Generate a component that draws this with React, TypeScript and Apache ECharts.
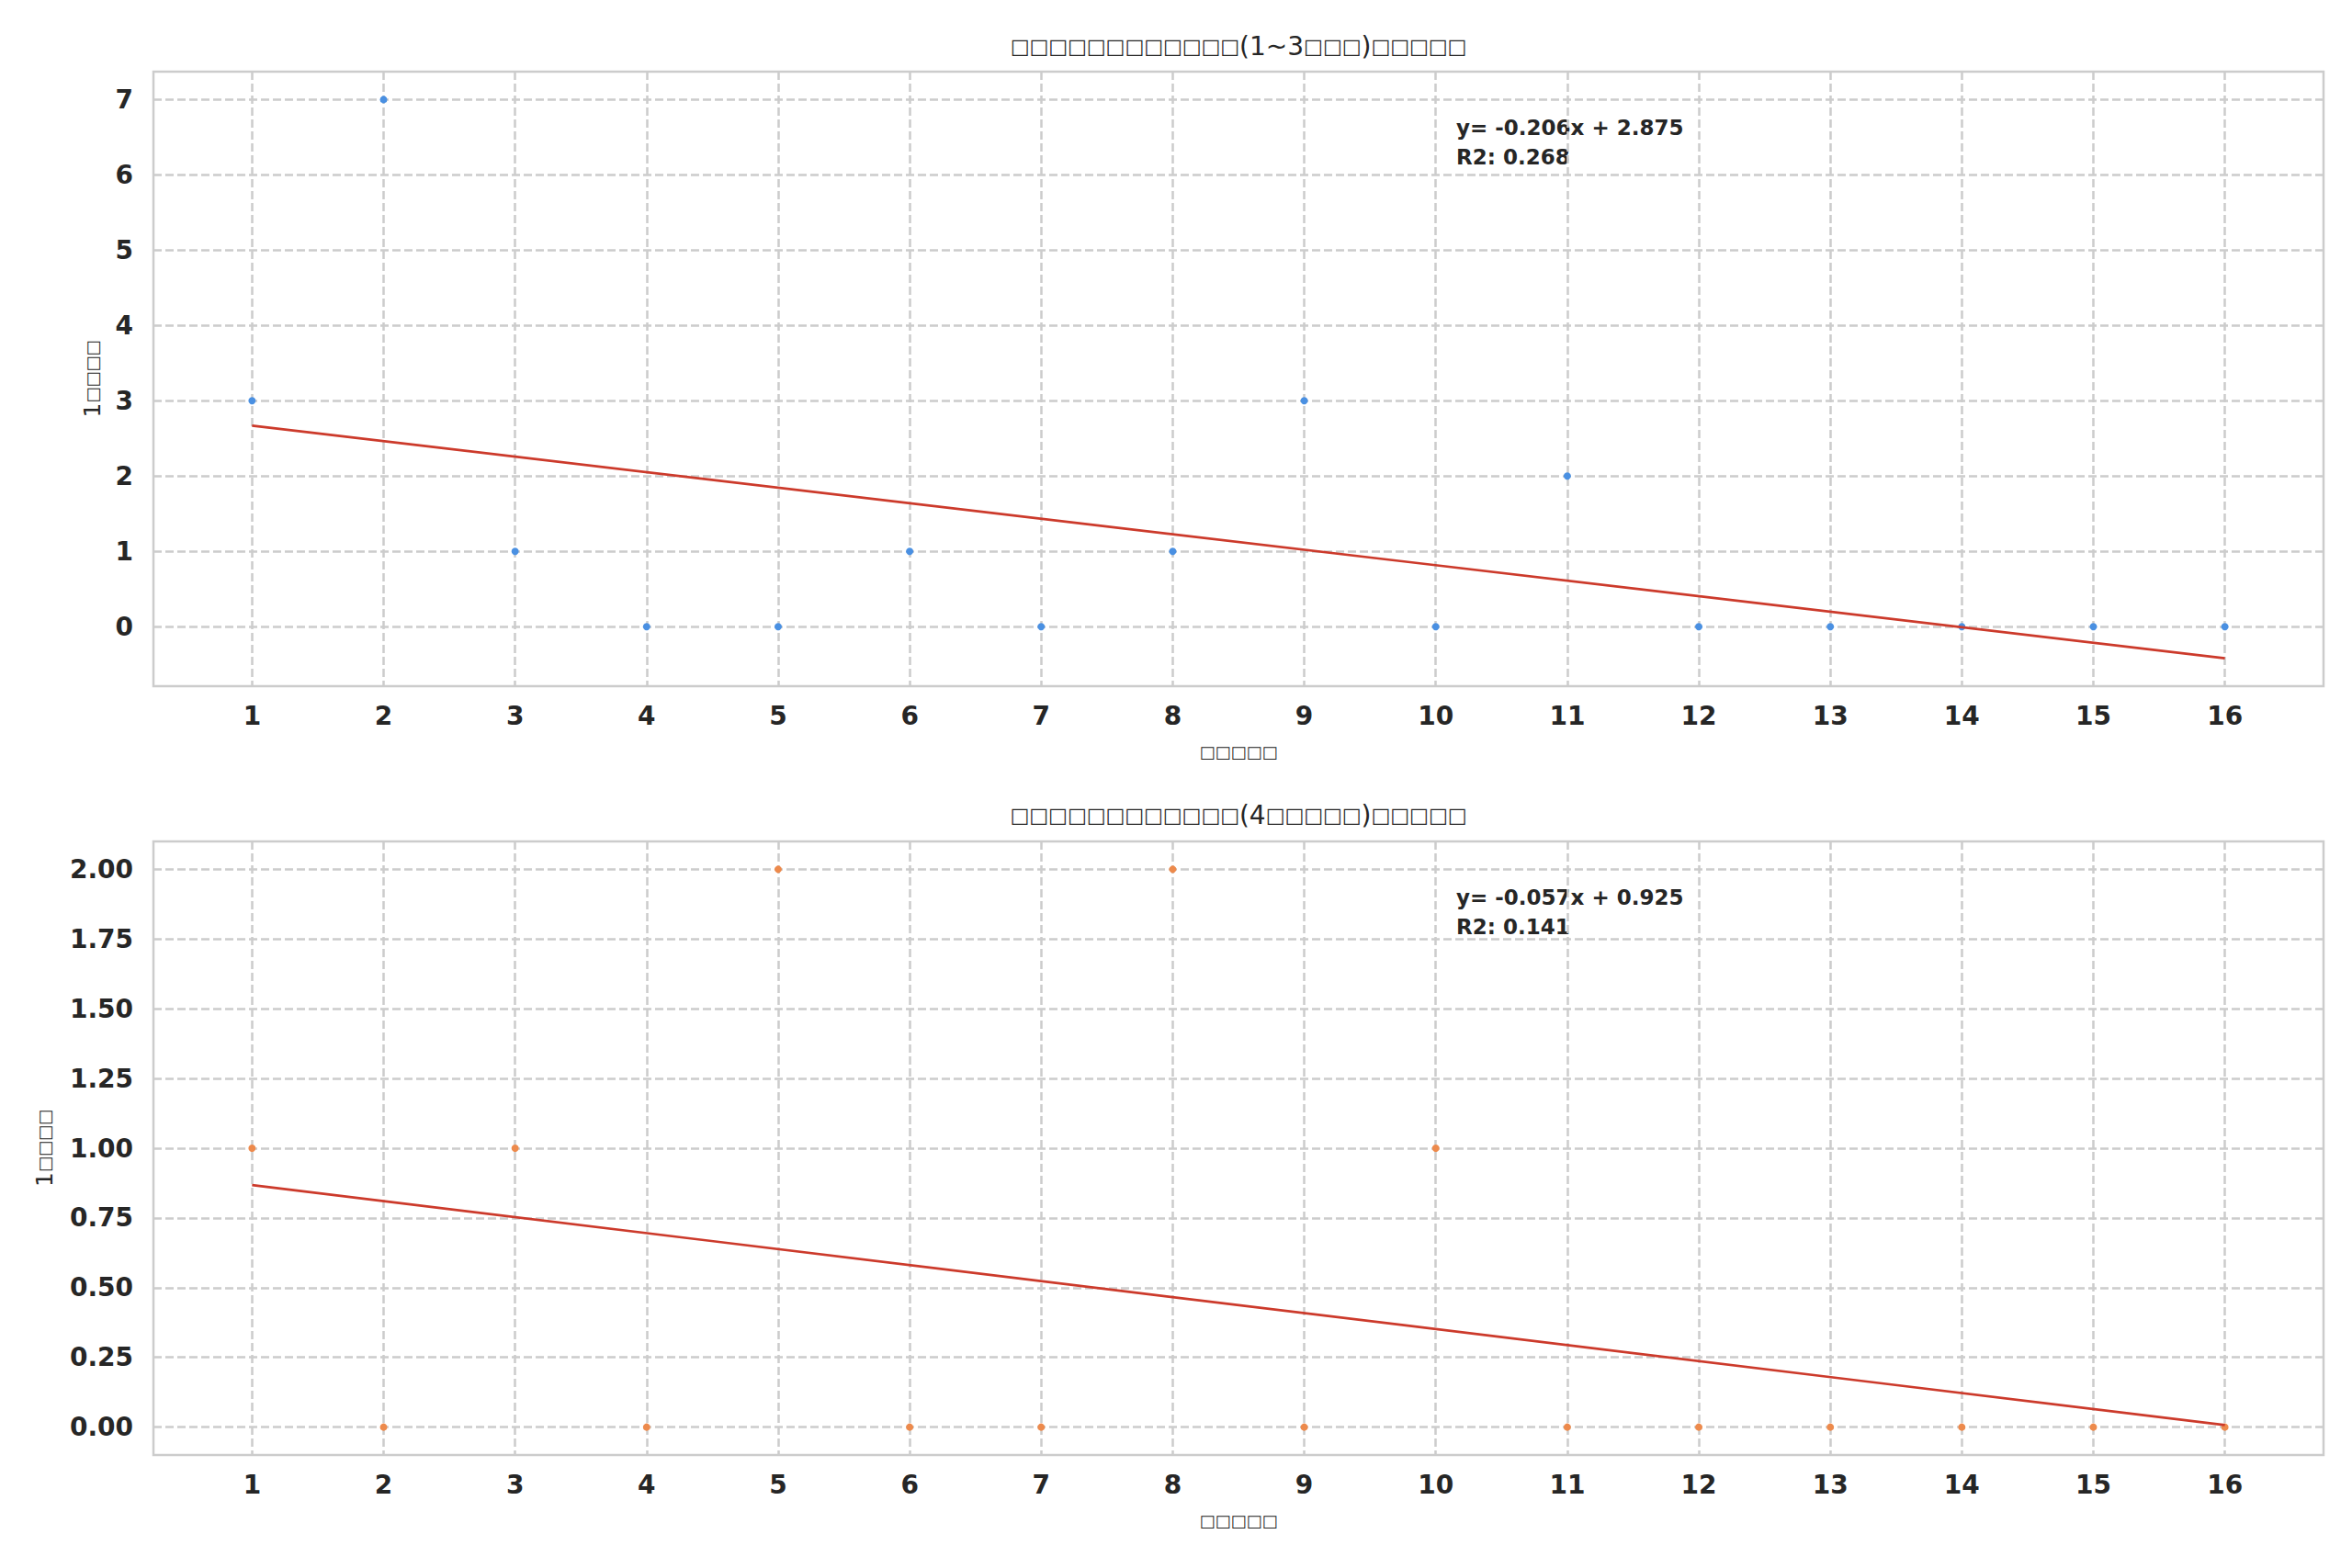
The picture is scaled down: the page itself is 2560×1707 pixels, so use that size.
import React, { useEffect, useRef } from "react";
import * as echarts from "echarts";

// ---- data ----
const months = [1, 2, 3, 4, 5, 6, 7, 8, 9, 10, 11, 12, 13, 14, 15, 16];
const countsShort = [3, 7, 1, 0, 0, 1, 0, 1, 3, 0, 2, 0, 0, 0, 0, 0];
const countsLong = [1, 0, 1, 0, 2, 0, 0, 2, 0, 1, 0, 0, 0, 0, 0, 0];
const xTicks = [1, 2, 3, 4, 5, 6, 7, 8, 9, 10, 11, 12, 13, 14, 15, 16];
const yTicksTop = [0, 1, 2, 3, 4, 5, 6, 7];
const yTicksBottom = [0, 0.25, 0.5, 0.75, 1, 1.25, 1.5, 1.75, 2];

// the reference shows missing-glyph boxes for its CJK text; boxes are wrapped in {b|...}
const titleTop = "{b|□□□□□□□□□□□□}(1~3{b|□□□}){b|□□□□□}";
const titleBottom = "{b|□□□□□□□□□□□□}(4{b|□□□□□}){b|□□□□□}";
const xName = "{b|□□□□□}";
const yName = "1{b|□□□□}";

const FONT = "DejaVu Sans";
const DARK = "#262626";
const GRID_COLOR = "#cccccc";
const BLUE = "#4a90e2";
const ORANGE = "#ed8a4c";
const RED = "#cc3a2b";

function fit(xs: number[], ys: number[]) {
  const n = xs.length;
  const mx = xs.reduce((a, b) => a + b, 0) / n;
  const my = ys.reduce((a, b) => a + b, 0) / n;
  let sxy = 0, sxx = 0, syy = 0;
  for (let i = 0; i < n; i++) {
    sxy += (xs[i] - mx) * (ys[i] - my);
    sxx += (xs[i] - mx) ** 2;
    syy += (ys[i] - my) ** 2;
  }
  const slope = sxy / sxx;
  const intercept = my - slope * mx;
  const r2 = (sxy * sxy) / (sxx * syy);
  return { slope, intercept, r2 };
}

function padRange(lo: number, hi: number) {
  const m = (hi - lo) * 0.05;
  return [lo - m, hi + m];
}

export default function App() {
  const ref = useRef<HTMLDivElement>(null);

  useEffect(() => {
    if (!ref.current) return;
    const chart = echarts.init(ref.current, undefined, { renderer: "svg" });

    const f1 = fit(months, countsShort);
    const f2 = fit(months, countsLong);
    const x0 = months[0];
    const x1 = months[months.length - 1];
    const line1 = [[x0, f1.intercept + f1.slope * x0], [x1, f1.intercept + f1.slope * x1]];
    const line2 = [[x0, f2.intercept + f2.slope * x0], [x1, f2.intercept + f2.slope * x1]];

    const y1lo = Math.min(...countsShort, line1[0][1], line1[1][1]);
    const y1hi = Math.max(...countsShort, line1[0][1], line1[1][1]);
    const y2lo = Math.min(...countsLong, line2[0][1], line2[1][1]);
    const y2hi = Math.max(...countsLong, line2[0][1], line2[1][1]);
    const [y1min, y1max] = padRange(y1lo, y1hi);
    const [y2min, y2max] = padRange(y2lo, y2hi);
    const [xmin, xmax] = padRange(x0, x1);

    const splitLine = {
      show: true,
      lineStyle: { color: GRID_COLOR, width: 2.5, type: [9, 4] },
    };

    const nameStyle = {
      fontSize: 25,
      color: DARK,
      fontFamily: FONT,
      rich: { b: { fontSize: 18, color: DARK, fontFamily: FONT } },
    };

    const xAxisCfg = (gridIndex: number) => ({
      type: "value",
      gridIndex,
      min: xmin,
      max: xmax,
      name: xName,
      nameLocation: "middle",
      nameGap: 62,
      nameTextStyle: nameStyle,
      axisLine: { show: false },
      axisTick: { show: false, customValues: xTicks },
      axisLabel: {
        customValues: xTicks,
        fontSize: 28,
        fontWeight: "bold",
        color: DARK,
        margin: 18,
        fontFamily: FONT,
      },
      splitLine,
    });

    const yAxisCfg = (
      gridIndex: number,
      min: number,
      max: number,
      ticks: number[],
      decimals: number,
      nameGap: number
    ) => ({
      type: "value",
      gridIndex,
      min,
      max,
      name: yName,
      nameLocation: "middle",
      nameRotate: 90,
      nameGap,
      nameTextStyle: nameStyle,
      axisLine: { show: false },
      axisTick: { show: false, customValues: ticks },
      axisLabel: {
        customValues: ticks,
        fontSize: 28,
        fontWeight: "bold",
        color: DARK,
        margin: 22,
        fontFamily: FONT,
        formatter: (v: number) => v.toFixed(decimals),
      },
      splitLine,
    });

    const annText = (f: { slope: number; intercept: number; r2: number }) => {
      const sign = f.intercept >= 0 ? "+" : "-";
      return [
        `y= ${f.slope.toFixed(3)}x ${sign} ${Math.abs(f.intercept).toFixed(3)}`,
        `R2: ${f.r2.toFixed(3)}`,
      ];
    };
    const a1 = annText(f1);
    const a2 = annText(f2);

    const textStyle = (text: string, size: number, weight: string, align: string) => ({
      text,
      fontSize: size,
      fontWeight: weight,
      fill: DARK,
      fontFamily: FONT,
      textAlign: align,
      textVerticalAlign: "middle",
      rich: { b: { fontSize: 22, fill: DARK, fontFamily: FONT } },
    });

    const option: any = {
      animation: false,
      backgroundColor: "#ffffff",
      textStyle: { fontFamily: FONT },
      grid: [
        {
          left: 167,
          right: 31,
          top: 78,
          height: 669,
          show: true,
          borderColor: GRID_COLOR,
          borderWidth: 2.5,
          backgroundColor: "transparent",
          containLabel: false,
          outerBoundsMode: "none",
        },
        {
          left: 167,
          right: 31,
          top: 916,
          height: 668,
          show: true,
          borderColor: GRID_COLOR,
          borderWidth: 2.5,
          backgroundColor: "transparent",
          containLabel: false,
          outerBoundsMode: "none",
        },
      ],
      xAxis: [xAxisCfg(0), xAxisCfg(1)],
      yAxis: [
        yAxisCfg(0, y1min, y1max, yTicksTop, 0, 54),
        yAxisCfg(1, y2min, y2max, yTicksBottom, 2, 106),
      ],
      graphic: [
        { type: "text", x: 1348, y: 50, style: textStyle(titleTop, 28, "normal", "center") },
        { type: "text", x: 1348, y: 887, style: textStyle(titleBottom, 28, "normal", "center") },
        { type: "text", x: 1585, y: 139, style: textStyle(a1[0], 23, "bold", "left") },
        { type: "text", x: 1585, y: 171, style: textStyle(a1[1], 23, "bold", "left") },
        { type: "text", x: 1585, y: 977, style: textStyle(a2[0], 23, "bold", "left") },
        { type: "text", x: 1585, y: 1009, style: textStyle(a2[1], 23, "bold", "left") },
      ],
      series: [
        {
          type: "scatter",
          xAxisIndex: 0,
          yAxisIndex: 0,
          symbolSize: 8,
          itemStyle: { color: BLUE, opacity: 1 },
          data: months.map((m, i) => [m, countsShort[i]]),
          z: 2,
        },
        {
          type: "line",
          xAxisIndex: 0,
          yAxisIndex: 0,
          showSymbol: false,
          symbol: "none",
          lineStyle: { color: RED, width: 2.7 },
          data: line1,
          z: 3,
        },
        {
          type: "scatter",
          xAxisIndex: 1,
          yAxisIndex: 1,
          symbolSize: 8,
          itemStyle: { color: ORANGE, opacity: 1 },
          data: months.map((m, i) => [m, countsLong[i]]),
          z: 2,
        },
        {
          type: "line",
          xAxisIndex: 1,
          yAxisIndex: 1,
          showSymbol: false,
          symbol: "none",
          lineStyle: { color: RED, width: 2.7 },
          data: line2,
          z: 3,
        },
      ],
    };

    chart.setOption(option);
    return () => chart.dispose();
  }, []);

  return (
    <div
      ref={ref}
      style={{ position: "absolute", left: 0, top: 0, width: 2560, height: 1707 }}
    />
  );
}
